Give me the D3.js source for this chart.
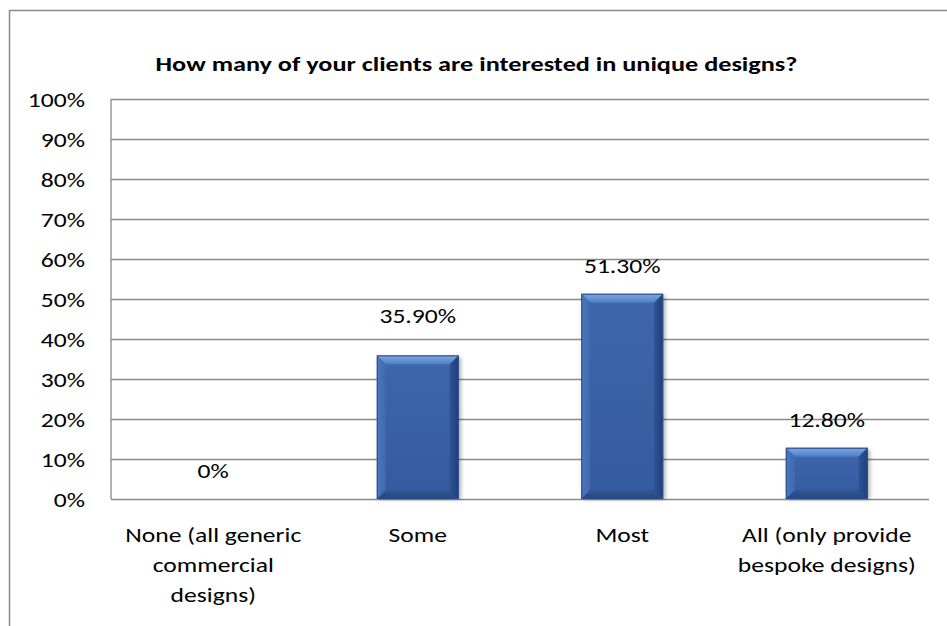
<!DOCTYPE html>
<html>
<head>
<meta charset="utf-8">
<script src="https://cdn.jsdelivr.net/npm/d3@7"></script>
<style>
  html, body { margin: 0; padding: 0; background: #fff; }
  svg { display: block; font-family: Carlito, Lato, "Open Sans", sans-serif; }
</style>
</head>
<body>
<svg id="chart" width="947" height="626"></svg>
<script>
// Survey answers and their shares (percent)
const categories = ["None", "Some", "Most", "All"];
const categoryLines = [
  ["None (all generic", "commercial", "designs)"],
  ["Some"],
  ["Most"],
  ["All (only provide", "bespoke designs)"]
];
const values = [0, 35.9, 51.3, 12.8];
const valueLabels = ["0%", "35.90%", "51.30%", "12.80%"];
const yTicks = [0, 10, 20, 30, 40, 50, 60, 70, 80, 90, 100];
const titleText = "How many of your clients are interested in unique designs?";

const svg = d3.select("#chart");
const plot = { left: 111, right: 929, top: 99, bottom: 499 };
const FONT = 20;      // label size
const SX = 1.28;      // wide lettering: horizontal stretch applied to all text

const x = d3.scaleBand()
  .domain(categories)
  .range([plot.left, plot.right])
  .paddingInner(0.6)
  .paddingOuter(0.3);

const y = d3.scaleLinear().domain([0, 100]).range([plot.bottom, plot.top]);

// text drawn at (tx, ty) and stretched horizontally about that point
function wideText(parent, tx, ty, anchor) {
  return parent.append("g")
    .attr("transform", `translate(${tx},${ty}) scale(${SX},1)`)
    .append("text")
    .attr("text-anchor", anchor)
    .attr("font-size", FONT)
    .attr("fill", "#000");
}

// Outer chart frame (runs past the right and bottom edges)
svg.append("path")
  .attr("d", "M9.5,640 V10.5 H960")
  .attr("fill", "none")
  .attr("stroke", "#898989")
  .attr("stroke-width", 1.5);

// Title
wideText(svg, 476.5, 70.5, "middle")
  .attr("font-weight", "bold")
  .attr("font-size", 20.5)
  .text(titleText);

// Gridlines
const grid = svg.append("g")
  .attr("transform", `translate(${plot.left},0)`)
  .call(d3.axisLeft(y).tickValues(yTicks).tickSize(-(plot.right - plot.left)).tickFormat(""));
grid.select(".domain").remove();
grid.selectAll(".tick line").attr("stroke", "#898989").attr("stroke-width", 1.3);

// Left edge of plot area
svg.append("line")
  .attr("x1", plot.left).attr("x2", plot.left)
  .attr("y1", y(100)).attr("y2", y(0))
  .attr("stroke", "#898989").attr("stroke-width", 1.3);

// Y axis labels
const yAxis = svg.append("g")
  .attr("transform", `translate(${plot.left},0)`)
  .call(d3.axisLeft(y).tickValues(yTicks).tickSize(0).tickPadding(26).tickFormat(d => d + "%"));
yAxis.select(".domain").remove();
yAxis.selectAll("text")
  .attr("x", 0)
  .attr("dy", "0.36em")
  .attr("transform", `translate(-26,0) scale(${SX},1)`)
  .attr("font-family", "Carlito, Lato, 'Open Sans', sans-serif")
  .attr("font-size", FONT)
  .attr("fill", "#000");

// Bar gradients
const defs = svg.append("defs");
const grad = (id, x1, y1, x2, y2, stops) => {
  const g = defs.append("linearGradient").attr("id", id)
    .attr("x1", x1).attr("y1", y1).attr("x2", x2).attr("y2", y2);
  stops.forEach(([o, c]) => g.append("stop").attr("offset", o).attr("stop-color", c));
};
grad("face", 0, 0, 0, 1, [[0, "#3d66ac"], [1, "#345b9f"]]);
grad("bevTop", 0, 0, 0, 1, [[0, "#80a8e4"], [1, "#4f7cc4"]]);
grad("bevLeft", 0, 0, 1, 0, [[0, "#4d78bf"], [1, "#3f68ad"]]);
grad("bevRight", 1, 0, 0, 0, [[0, "#1f3f78"], [1, "#2f5494"]]);
grad("bevBottom", 0, 1, 0, 0, [[0, "#24457f"], [1, "#325896"]]);
const blur = defs.append("filter").attr("id", "shadow")
  .attr("x", "-20%").attr("y", "-20%").attr("width", "140%").attr("height", "140%");
blur.append("feGaussianBlur").attr("stdDeviation", 2);

const bars = svg.append("g").selectAll("g")
  .data(values.map((v, i) => ({ v, c: categories[i] })).filter(d => d.v > 0))
  .join("g");

bars.each(function (d) {
  const g = d3.select(this);
  const bx = x(d.c), bw = x.bandwidth();
  const by = y(d.v), bh = y(0) - y(d.v);
  const b = Math.min(9, bh / 2, bw / 2);
  // soft drop shadow
  g.append("rect")
    .attr("x", bx + 2).attr("y", by + 2).attr("width", bw).attr("height", bh - 2)
    .attr("fill", "rgba(0,0,0,0.35)").attr("filter", "url(#shadow)");
  g.append("rect")
    .attr("x", bx).attr("y", by).attr("width", bw).attr("height", bh)
    .attr("fill", "url(#face)");
  const poly = (pts, fill) => g.append("polygon")
    .attr("points", pts.map(p => p.join(",")).join(" ")).attr("fill", fill);
  poly([[bx, by], [bx + bw, by], [bx + bw - b, by + b], [bx + b, by + b]], "url(#bevTop)");
  poly([[bx, by], [bx + b, by + b], [bx + b, by + bh - b], [bx, by + bh]], "url(#bevLeft)");
  poly([[bx + bw, by], [bx + bw, by + bh], [bx + bw - b, by + bh - b], [bx + bw - b, by + b]], "url(#bevRight)");
  poly([[bx, by + bh], [bx + b, by + bh - b], [bx + bw - b, by + bh - b], [bx + bw, by + bh]], "url(#bevBottom)");
  g.append("rect")
    .attr("x", bx + 0.5).attr("y", by + 0.5).attr("width", bw - 1).attr("height", bh - 1)
    .attr("fill", "none").attr("stroke", "#2a4d8c").attr("stroke-width", 1);
});

// Value labels above each bar
const labelLift = { Some: 32 };
const valueLayer = svg.append("g");
values.forEach((v, i) => {
  const c = categories[i];
  wideText(valueLayer, x(c) + x.bandwidth() / 2, y(v) - (labelLift[c] || 21), "middle")
    .text(valueLabels[i]);
});

// Category labels, wrapped
const catLayer = svg.append("g");
categories.forEach((c, i) => {
  const t = wideText(catLayer, x(c) + x.bandwidth() / 2, 542, "middle");
  t.selectAll("tspan")
    .data(categoryLines[i])
    .join("tspan")
    .attr("x", 0)
    .attr("dy", (s, j) => j === 0 ? 0 : 30)
    .text(s => s);
});
</script>
</body>
</html>
